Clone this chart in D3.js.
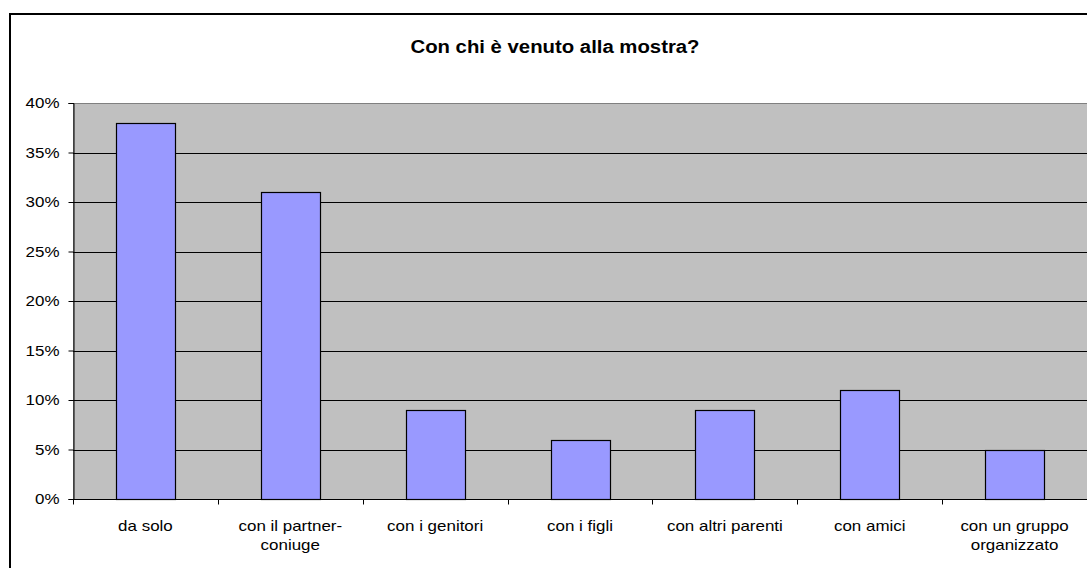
<!DOCTYPE html>
<meta charset="utf-8">
<head>
<script src="https://d3js.org/d3.v7.min.js"></script>
<style>
body { margin: 0; background: #fff; }
text { font-family: "Liberation Sans", Arial, sans-serif; fill: #000; }
</style>
</head>
<body>
<script>

// Data
var categories = ["da solo", "con il partner-coniuge", "con i genitori", "con i figli",
                  "con altri parenti", "con amici", "con un gruppo organizzato"];
var labelLines = [["da solo"], ["con il partner-", "coniuge"], ["con i genitori"], ["con i figli"],
                  ["con altri parenti"], ["con amici"], ["con un gruppo", "organizzato"]];
var values = [38, 31, 9, 6, 9, 11, 5];
var yTicks = [0, 5, 10, 15, 20, 25, 30, 35, 40];

var W = 1087, H = 568;
var margin = {top: 103, left: 73},
    width = 1087 - margin.left,
    height = 499 - margin.top;
var sx = 1.13; // text in the original is a bit wide

var svg = d3.select("body").append("svg")
    .attr("width", W)
    .attr("height", H);

// outer chart border
svg.append("rect")
    .attr("x", 10).attr("y", 14)
    .attr("width", 1100).attr("height", 600)
    .attr("fill", "#fff")
    .attr("stroke", "#000")
    .attr("stroke-width", 2);

svg.append("text")
    .attr("transform", "translate(555,53) scale(" + sx + ",1)")
    .attr("text-anchor", "middle")
    .style("font-size", "18px")
    .style("font-weight", "bold")
    .text("Con chi è venuto alla mostra?");

var g = svg.append("g")
    .attr("transform", "translate(" + margin.left + "," + margin.top + ")");

var x = d3.scaleBand()
    .domain(categories)
    .range([0, width])
    .padding(0);
var y = d3.scaleLinear()
    .domain([0, 40])
    .range([height, 0]);

// plot area
g.append("rect")
    .attr("x", 0.5).attr("y", 0.5)
    .attr("width", width + 5).attr("height", height)
    .attr("fill", "#c0c0c0")
    .attr("stroke", "#808080")
    .attr("stroke-width", 1);

// gridlines
g.selectAll(".grid")
    .data(yTicks.filter(function(d) { return d > 0 && d < 40; }))
    .enter().append("line")
    .attr("x1", 0).attr("x2", width + 5)
    .attr("y1", function(d) { return Math.round(y(d)) + 0.5; })
    .attr("y2", function(d) { return Math.round(y(d)) + 0.5; })
    .attr("stroke", "#000");

// bars
var barW = 59;
g.selectAll(".bar")
    .data(values)
    .enter().append("rect")
    .attr("class", "bar")
    .attr("x", function(d, i) { return Math.round(x(categories[i]) + x.bandwidth() / 2 - barW / 2) + 0.5; })
    .attr("width", barW)
    .attr("y", function(d) { return Math.round(y(d)) + 0.5; })
    .attr("height", function(d) { return height - Math.round(y(d)); })
    .attr("fill", "#9999ff")
    .attr("stroke", "#000")
    .attr("stroke-width", 1.2);

// y axis
var yAxis = g.append("g")
    .attr("transform", "translate(0.5,0)")
    .call(d3.axisLeft(y).tickValues(yTicks).tickSize(5).tickPadding(4)
          .tickFormat(function(d) { return d + "%"; }));
yAxis.select(".domain").attr("stroke", "#000");
yAxis.selectAll(".tick text")
    .attr("x", null)
    .attr("transform", "translate(-14,0) scale(" + sx + ",1)")
    .style("font-size", "15px")
    .style("font-family", "Liberation Sans, Arial, sans-serif");

// x axis
var xAxis = g.append("g")
    .attr("transform", "translate(0," + (height + 0.5) + ")");
xAxis.append("line")
    .attr("x1", 0).attr("x2", width + 5)
    .attr("stroke", "#000");
xAxis.selectAll(".tk")
    .data(d3.range(categories.length + 1))
    .enter().append("line")
    .attr("x1", function(i) { return Math.round(i * x.step()) + 0.5; })
    .attr("x2", function(i) { return Math.round(i * x.step()) + 0.5; })
    .attr("y1", 0).attr("y2", 5)
    .attr("stroke", "#000");

xAxis.selectAll(".lbl")
    .data(labelLines)
    .enter().append("text")
    .attr("text-anchor", "middle")
    .attr("transform", function(d, i) {
        return "translate(" + (x(categories[i]) + x.bandwidth() / 2) + ",31) scale(" + sx + ",1)";
    })
    .style("font-size", "15px")
    .each(function(d) {
        var t = d3.select(this);
        d.forEach(function(line, k) {
            t.append("tspan").attr("x", 0).attr("y", k * 20).text(line);
        });
    });

</script>
</body>
